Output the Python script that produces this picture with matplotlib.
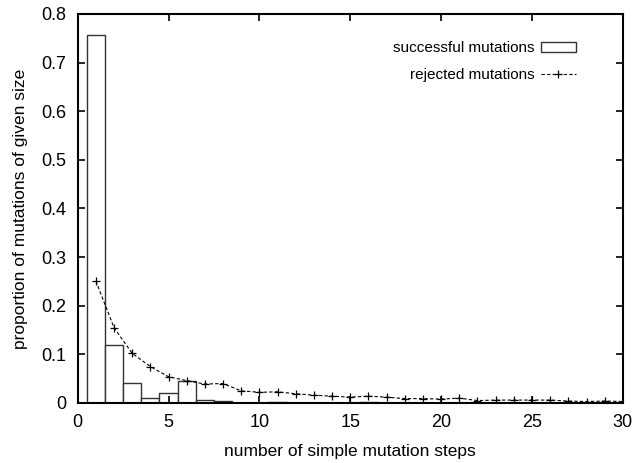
import matplotlib
matplotlib.use("Agg")
import matplotlib.pyplot as plt

plt.rcParams['font.family'] = ['Liberation Sans', 'DejaVu Sans']

steps = list(range(1, 31))

successful = [0.756, 0.119, 0.042, 0.010, 0.021, 0.046, 0.007, 0.004, 0.001, 0.0,
              0.003, 0.0, 0.0, 0.0, 0.0, 0.003, 0.0, 0.0, 0.0, 0.0,
              0.0, 0.0, 0.0, 0.0, 0.0, 0.0, 0.0, 0.0, 0.0, 0.0]

rejected = [0.251, 0.155, 0.102, 0.075, 0.054, 0.046, 0.039, 0.040, 0.025, 0.022,
            0.023, 0.019, 0.016, 0.014, 0.012, 0.014, 0.012, 0.009, 0.009, 0.008,
            0.010, 0.005, 0.006, 0.006, 0.006, 0.006, 0.004, 0.003, 0.004, 0.003]

fig = plt.figure(figsize=(6.33, 4.63), dpi=100)
ax = fig.add_axes([0.1227, 0.1296, 0.8613, 0.8402])

bars = ax.bar(steps, successful, width=1.0, color='white', edgecolor='#333333',
              linewidth=1.0, label='successful mutations')
line, = ax.plot(steps, rejected, color='black', linestyle=(0, (3, 2)), linewidth=0.8,
                marker='+', markersize=6, markeredgewidth=0.9, label='rejected mutations')

ax.set_xlim(0, 30)
ax.set_ylim(0, 0.8)
ax.set_xticks(range(0, 31, 5))
ax.set_yticks([i / 10 for i in range(9)])
ax.set_yticklabels(['0', '0.1', '0.2', '0.3', '0.4', '0.5', '0.6', '0.7', '0.8'])

ax.tick_params(direction='in', length=5, width=1.2, top=True, right=True,
               labelsize=13, pad=8)
for s in ax.spines.values():
    s.set_linewidth(1.5)

ax.set_xlabel('number of simple mutation steps', fontsize=12.5, labelpad=9)
ax.set_ylabel('proportion of mutations of given size', fontsize=12.5, labelpad=10)

ax.legend(handles=[bars, line], loc='upper right', bbox_to_anchor=(0.925, 0.945),
          frameon=False, markerfirst=False, fontsize=11, handlelength=2.3,
          handleheight=0.55, handletextpad=0.4, labelspacing=0.85, borderaxespad=0)

fig.savefig('out.png', dpi=100)
